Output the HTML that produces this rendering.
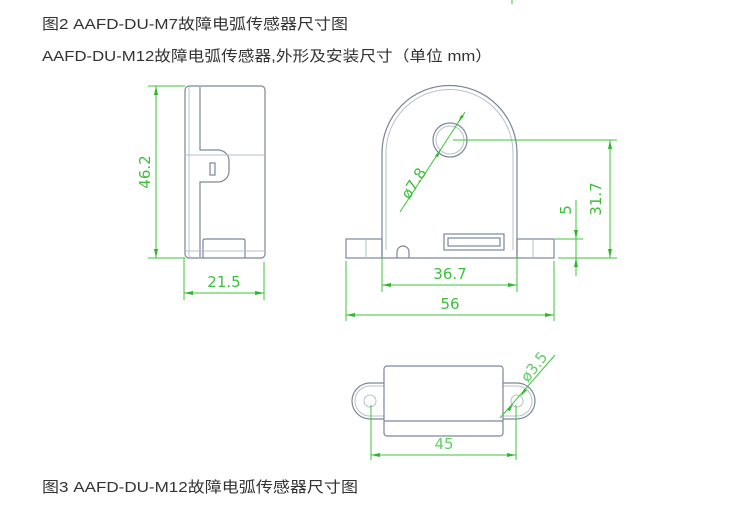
<!DOCTYPE html>
<html><head><meta charset="utf-8"><style>
html,body{margin:0;padding:0;background:#fff;}
svg{display:block;}
.t{font-family:"Liberation Sans","Noto Sans CJK SC",sans-serif;font-size:15px;fill:#333;}
.d{font-family:"DejaVu Sans","Liberation Sans",sans-serif;font-size:15px;fill:#3cbf3c;}
.o{fill:none;stroke:#7a8799;stroke-width:1.2;}
.l{fill:none;stroke:#b7c0cc;stroke-width:1;}
.g{fill:none;stroke:#3cc43c;stroke-width:1;}
.a{fill:#2db82d;}
</style></head><body>
<svg width="746" height="526" viewBox="0 0 746 526" xmlns="http://www.w3.org/2000/svg">
<text class="t" x="42" y="29" textLength="306" lengthAdjust="spacingAndGlyphs">图2 AAFD-DU-M7故障电弧传感器尺寸图</text>
<text class="t" x="42" y="61" textLength="450" lengthAdjust="spacingAndGlyphs">AAFD-DU-M12故障电弧传感器,外形及安装尺寸（单位 mm）</text>
<text class="t" x="42" y="492" textLength="316" lengthAdjust="spacingAndGlyphs">图3 AAFD-DU-M12故障电弧传感器尺寸图</text>
<line x1="512" y1="0" x2="512" y2="4" class="g"/>

<!-- side view -->
<rect x="185" y="86" width="80" height="172" rx="4" class="o"/>
<line x1="189" y1="87" x2="189" y2="257" class="l"/>
<path d="M200 87 V150 H218 A11 11 0 0 1 229 161 V171 A11 11 0 0 1 218 182 H200 V257" class="o"/>
<line x1="185" y1="155" x2="265" y2="155" class="l"/>
<rect x="210" y="163" width="5" height="12" class="o"/>
<path d="M203 258 V241 Q203 239 205 239 H243 Q245 239 245 241 V258" class="o"/>
<line x1="185" y1="251" x2="265" y2="251" class="l"/>
<line x1="148" y1="86" x2="185" y2="86" class="g"/>
<line x1="148" y1="258" x2="185" y2="258" class="g"/>
<line x1="156" y1="86" x2="156" y2="258" class="g"/>
<path d="M156 86 l-2 9 h4z M156 258 l-2 -9 h4z" class="a"/>
<text class="d" transform="translate(150,172) rotate(-90)" text-anchor="middle">46.2</text>
<line x1="184" y1="258" x2="184" y2="300" class="g"/>
<line x1="264" y1="262" x2="264" y2="300" class="g"/>
<line x1="184" y1="293" x2="264" y2="293" class="g"/>
<path d="M184 293 l9 -2 v4z M264 293 l-9 -2 v4z" class="a"/>
<text class="d" x="224" y="287" text-anchor="middle">21.5</text>

<!-- front view -->
<path d="M382 258 V153 A67.5 67.5 0 0 1 517 153 V258 Z" class="o"/>
<path d="M386 250 V153 A63.5 63.5 0 0 1 513 153 V250" class="l"/>
<rect x="346" y="239" width="36" height="19" class="o"/>
<rect x="517" y="239" width="37" height="19" class="o"/>
<line x1="366" y1="239" x2="366" y2="258" class="l"/>
<line x1="533" y1="239" x2="533" y2="258" class="l"/>
<circle cx="450" cy="140" r="17" class="o"/>
<circle cx="450" cy="140" r="14" class="l"/>
<rect x="444" y="234" width="60" height="16" class="o"/>
<rect x="448" y="238" width="52" height="8" class="o"/>
<path d="M397 258 V252 A6 6 0 0 1 409 252 V258" class="o"/>
<line x1="400" y1="212" x2="465" y2="112" class="g"/>
<path d="M441 149 l-6 7 l3 1z M458 123 l6 -7 l-3 -1z" class="a"/>
<text class="d" transform="translate(418,186) rotate(-58)" text-anchor="middle">ø7.8</text>
<line x1="453" y1="140" x2="617" y2="140" class="g"/>
<line x1="558" y1="258" x2="617" y2="258" class="g"/>
<line x1="610" y1="140" x2="610" y2="258" class="g"/>
<path d="M610 140 l-2 9 h4z M610 258 l-2 -9 h4z" class="a"/>
<text class="d" transform="translate(601,199) rotate(-90)" text-anchor="middle">31.7</text>
<line x1="555" y1="239" x2="583" y2="239" class="g"/>
<line x1="576" y1="200" x2="576" y2="276" class="g"/>
<path d="M576 239 l-2 -9 h4z M576 258 l-2 9 h4z" class="a"/>
<text class="d" transform="translate(571,210) rotate(-90)" text-anchor="middle">5</text>
<line x1="382" y1="258" x2="382" y2="292" class="g"/>
<line x1="517" y1="258" x2="517" y2="292" class="g"/>
<line x1="382" y1="285" x2="517" y2="285" class="g"/>
<path d="M382 285 l9 -2 v4z M517 285 l-9 -2 v4z" class="a"/>
<text class="d" x="450" y="279" text-anchor="middle">36.7</text>
<line x1="346" y1="261" x2="346" y2="321" class="g"/>
<line x1="554" y1="261" x2="554" y2="321" class="g"/>
<line x1="346" y1="315" x2="554" y2="315" class="g"/>
<path d="M346 315 l9 -2 v4z M554 315 l-9 -2 v4z" class="a"/>
<text class="d" x="450" y="309" text-anchor="middle">56</text>

<!-- bottom view -->
<path d="M384 383 H370 A18 18 0 0 0 370 419 H384" class="o"/>
<path d="M384 386 H370 A15 15 0 0 0 370 416 H384" class="l"/>
<path d="M503 383 H517 A18 18 0 0 1 517 419 H503" class="o"/>
<path d="M503 386 H517 A15 15 0 0 1 517 416 H503" class="l"/>
<rect x="384" y="366" width="119" height="70" rx="3" class="o"/>
<line x1="384" y1="421" x2="503" y2="421" class="o"/>
<circle cx="370" cy="401" r="6" class="l"/>
<circle cx="517" cy="401" r="6" class="l"/>
<line x1="371" y1="405" x2="371" y2="460" class="g"/>
<line x1="516" y1="405" x2="516" y2="460" class="g"/>
<line x1="371" y1="455" x2="516" y2="455" class="g"/>
<path d="M371 455 l9 -2 v4z M516 455 l-9 -2 v4z" class="a"/>
<text class="d" x="444" y="449" text-anchor="middle" style="fill:#5fd15f">45</text>
<line x1="500" y1="418" x2="555" y2="355" class="g"/>
<path d="M513 404 l-6 6 l3 1z M521 396 l6 -6 l-3 -1z" class="a"/>
<text class="d" transform="translate(538,370) rotate(-52)" text-anchor="middle" style="fill:#5fd15f">ø3.5</text>
</svg>
</body></html>
